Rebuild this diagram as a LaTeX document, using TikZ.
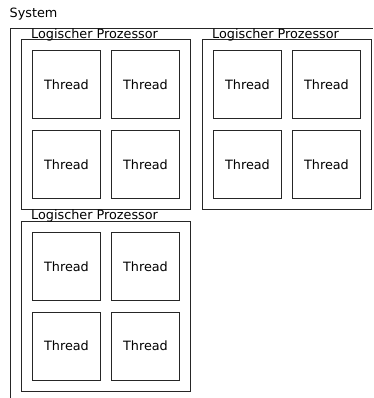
\documentclass[tikz,border=0pt]{standalone}
\usepackage{fontspec}
\setmainfont{DejaVu Sans}
\begin{document}
\begin{tikzpicture}[x=1pt,y=-1pt,
  frame/.style={draw=black!85, line width=0.9pt},
  proc/.style={frame, anchor=north west, inner sep=0pt, minimum width=169pt, minimum height=170pt},
  thread/.style={frame, anchor=north west, inner sep=0pt, minimum width=68pt, minimum height=68pt,
    font=\fontsize{12.8}{15}\selectfont},
  lbl/.style={anchor=base west, inner sep=0pt, font=\fontsize{12.8}{15}\selectfont}]
\useasboundingbox (0,0) rectangle (373,398);

% system frame (open towards the right and bottom)
\coordinate (sysbl) at (10,398);
\coordinate (systr) at (373,28.5);
\draw[frame] (sysbl) |- (systr);
\node[lbl] (syslbl) at (9.5,17.3) {System};

% logical processor 1
\node[proc] (p1) at (21,39) {};
\node[lbl] (p1lbl) at (31,38.2) {Logischer Prozessor};
\node[thread] (p1a) at (32,50.5) {Thread};
\node[thread] (p1b) at (111,50.5) {Thread};
\node[thread] (p1c) at (32,130) {Thread};
\node[thread] (p1d) at (111,130) {Thread};

% logical processor 2
\node[proc] (p2) at (202,39) {};
\node[lbl] (p2lbl) at (212,38.2) {Logischer Prozessor};
\node[thread] (p2a) at (213,50.5) {Thread};
\node[thread] (p2b) at (292,50.5) {Thread};
\node[thread] (p2c) at (213,130) {Thread};
\node[thread] (p2d) at (292,130) {Thread};

% logical processor 3
\node[proc] (p3) at (21,220.5) {};
\node[lbl] (p3lbl) at (31,219.7) {Logischer Prozessor};
\node[thread] (p3a) at (32,232) {Thread};
\node[thread] (p3b) at (111,232) {Thread};
\node[thread] (p3c) at (32,311.5) {Thread};
\node[thread] (p3d) at (111,311.5) {Thread};
\end{tikzpicture}
\end{document}
